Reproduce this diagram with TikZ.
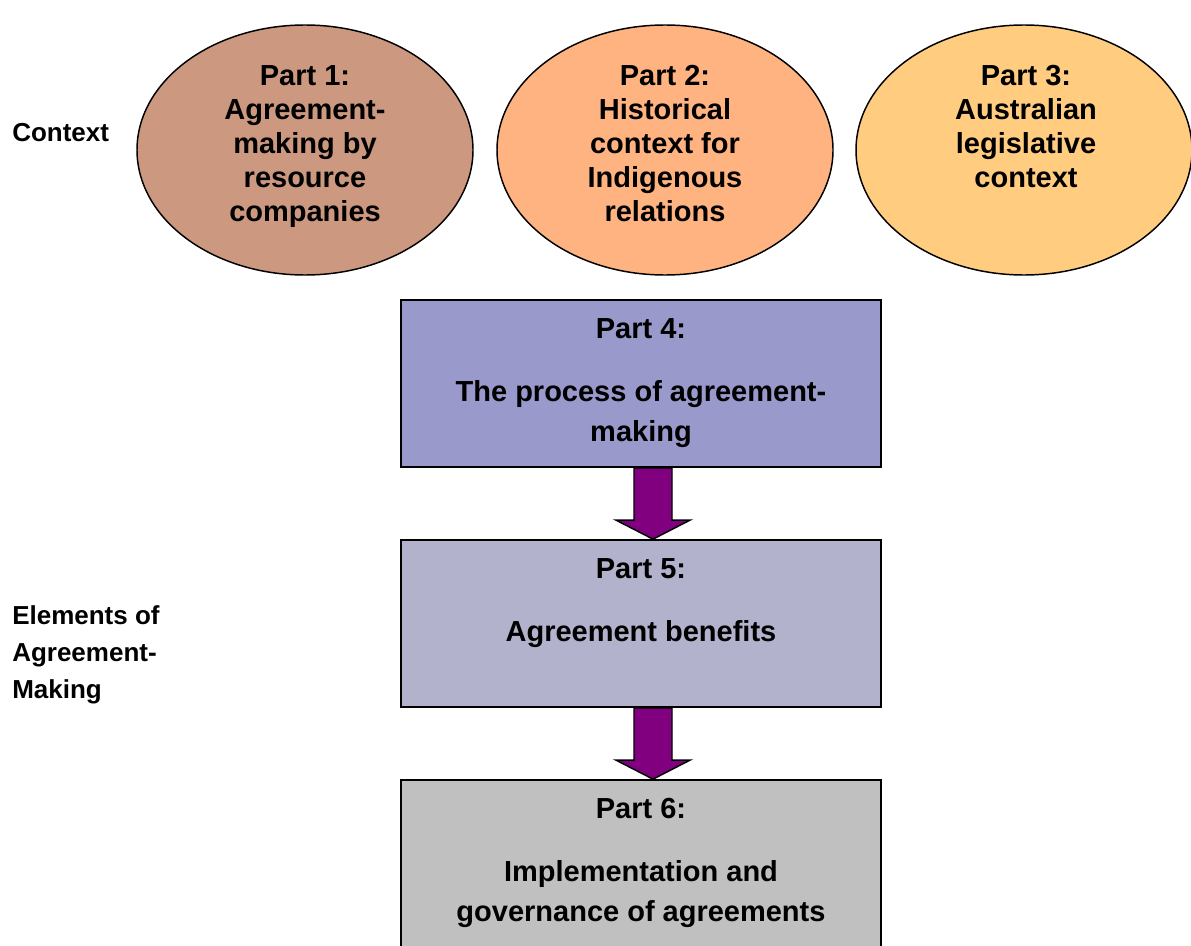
\documentclass[tikz,border=0pt]{standalone}
\usepackage{fontspec}
\setmainfont{Liberation Sans}
\usetikzlibrary{shapes}
\usetikzlibrary{calc}
\usetikzlibrary{positioning}
\definecolor{partone}{RGB}{204,153,128}
\definecolor{parttwo}{RGB}{255,179,128}
\definecolor{partthree}{RGB}{255,204,128}
\definecolor{partfour}{RGB}{153,153,204}
\definecolor{partfive}{RGB}{178,178,204}
\definecolor{partsix}{RGB}{192,192,192}
\definecolor{arrowpurple}{RGB}{128,0,128}
\tikzset{partell/.style={ellipse, draw=black, line width=1.1pt, minimum width=252pt, minimum height=187.5pt, inner sep=0pt},
partbox/.style={rectangle, draw=black, line width=1.3pt, minimum width=360pt, minimum height=125.25pt, inner sep=0pt},
elltext/.style={anchor=north, align=center, inner sep=0pt, font=\fontsize{21.75}{25.5}\selectfont\bfseries},
boxtext/.style={anchor=north, align=center, inner sep=0pt, font=\fontsize{21.75}{30}\selectfont\bfseries},
sidetext/.style={anchor=north west, align=left, inner sep=0pt, font=\fontsize{19.5}{27.75}\selectfont\bfseries},
blockarrow/.style={fill=arrowpurple, draw=black, line width=1.1pt, line join=miter}}

\begin{document}
\begin{tikzpicture}[x=0.75pt, y=-0.75pt]
  \useasboundingbox (0,0) rectangle (1191,945);

  % context row
  \node(E1) [partell, fill=partone] at (305,150) {};
  \node(E2) [partell, fill=parttwo] at (665,150) {};
  \node(E3) [partell, fill=partthree] at (1024,150) {};
  \node(T1) [elltext] at (305,65) {Part 1:\\Agreement-\\making by\\resource\\companies};
  \node(T2) [elltext] at (665,65) {Part 2:\\Historical\\context for\\Indigenous\\relations};
  \node(T3) [elltext] at (1026,65) {Part 3:\\Australian\\legislative\\context};

  % elements column
  \node(R4) [partbox, fill=partfour] at (641,383.5) {};
  \node(R5) [partbox, fill=partfive] at (641,623.5) {};
  \node(R6) [partbox, fill=partsix] at (641,863.5) {};
  \node(T4) [boxtext] at (641,318) {Part 4:\\[17.25pt]The process of agreement-\\making};
  \node(T5) [boxtext] at (641,558) {Part 5:\\[17.25pt]Agreement benefits};
  \node(T6) [boxtext] at (641,798) {Part 6:\\[17.25pt]Implementation and\\governance of agreements};

  % side labels
  \node(context) [sidetext] at (12,123) {Context};
  \node(elements) [sidetext] at (12,605) {Elements of\\Agreement-\\Making};

  % block arrows
  \filldraw[blockarrow]
  ($(R4.south)+(-7,0)$) -- ($(R5.north)+(-7,-19)$) -- ($(R5.north)+(-25,-19)$) -- ($(R5.north)+(12,0)$)
  -- ($(R5.north)+(49,-19)$) -- ($(R5.north)+(31,-19)$) -- ($(R4.south)+(31,0)$) -- cycle;
  \filldraw[blockarrow]
  ($(R5.south)+(-7,0)$) -- ($(R6.north)+(-7,-19)$) -- ($(R6.north)+(-25,-19)$) -- ($(R6.north)+(12,0)$)
  -- ($(R6.north)+(49,-19)$) -- ($(R6.north)+(31,-19)$) -- ($(R5.south)+(31,0)$) -- cycle;
\end{tikzpicture}
\end{document}
